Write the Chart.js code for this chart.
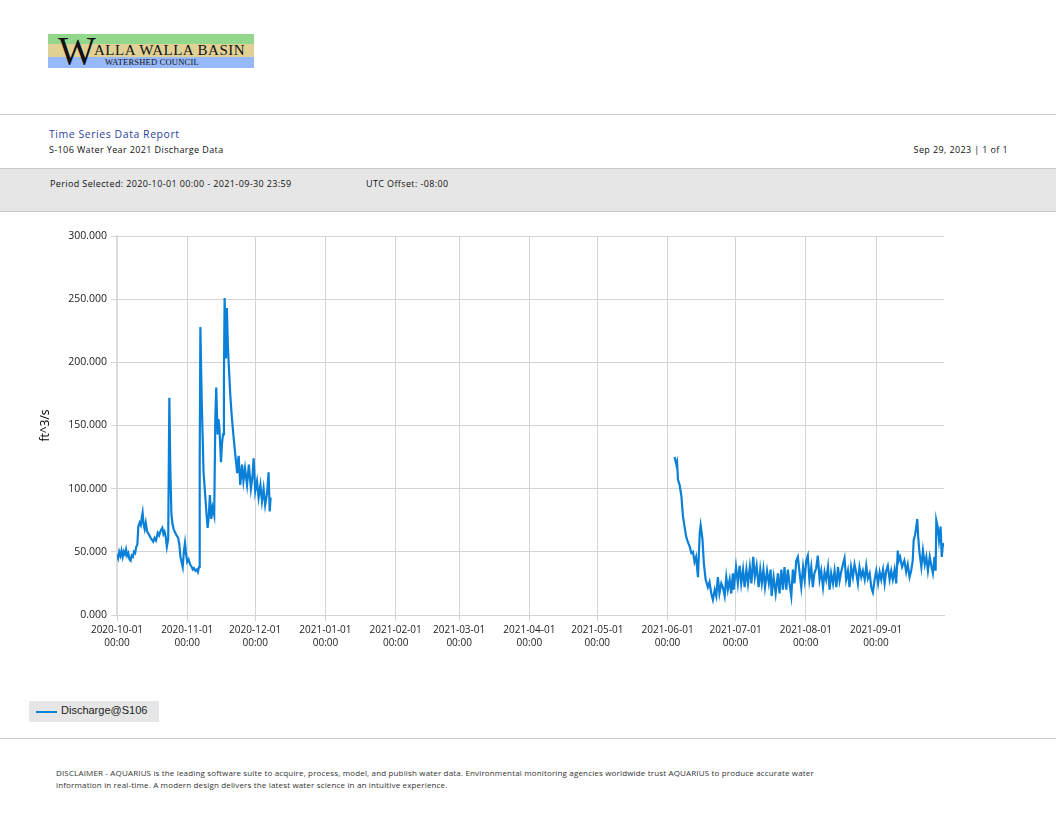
<!DOCTYPE html>
<html>
<head>
<meta charset="utf-8">
<script src="https://cdn.jsdelivr.net/npm/chart.js@4.4.1/dist/chart.umd.min.js"></script>
<style>
  body { margin: 0; width: 1056px; height: 816px; background: #fff; position: relative; overflow: hidden; font-family: 'Open Sans', sans-serif; }
  .abs { position: absolute; white-space: nowrap; }
  .rule { position: absolute; left: 0; width: 1056px; height: 1px; background: #c8c8c8; }
  .hdr { font-size: 9px; color: #111; letter-spacing: 0.38px; }
  #logo { left: 48px; top: 34px; width: 206px; height: 34px; }
  #logo .band { position: absolute; left: 0; width: 206px; }
  #chart-wrap { position: absolute; left: 30px; top: 225px; width: 930px; height: 430px; }
  #legend { left: 29px; top: 701px; width: 130px; height: 21px; background: #e6e6e6; }
  #legend .swatch { position: absolute; left: 7px; top: 10px; width: 21px; height: 2px; }
  #legend .label { position: absolute; left: 32px; top: 3px; font: 11px 'Liberation Sans', Arial, sans-serif; color: #222; }
</style>
</head>
<body>

<div id="logo" class="abs">
  <div class="band" style="top:0;height:10px;background:#92d78c"></div>
  <div class="band" style="top:10px;height:13px;background:#e2d195"></div>
  <div class="band" style="top:23px;height:11px;background:#97b8fa"></div>
  <div class="abs" style="left:10px;top:-3px;font:40px 'Liberation Serif',serif;color:#111;line-height:40px">W</div>
  <div class="abs" style="left:46px;top:9px;font:15px 'Liberation Serif',serif;color:#111;letter-spacing:0.5px;line-height:15px">ALLA WALLA BASIN</div>
  <div class="abs" style="left:57px;top:24px;font:8.5px 'Liberation Serif',serif;color:#111;letter-spacing:0.2px;line-height:9px">WATERSHED COUNCIL</div>
</div>

<div class="rule" style="top:114px"></div>
<div class="abs" style="left:49px;top:127px;font-size:10.5px;color:#2d3f9e;letter-spacing:0.55px">Time Series Data Report</div>
<div class="abs hdr" style="left:49px;top:143px">S-106 Water Year 2021 Discharge Data</div>
<div class="abs hdr" style="right:48px;top:143px">Sep 29, 2023 | 1 of 1</div>

<div class="abs" style="left:0;top:168px;width:1056px;height:42px;background:#e6e6e6;border-top:1px solid #c8c8c8;border-bottom:1px solid #c8c8c8"></div>
<div class="abs hdr" style="left:50px;top:177px">Period Selected: 2020-10-01 00:00 - 2021-09-30 23:59</div>
<div class="abs hdr" style="left:366px;top:177px">UTC Offset: -08:00</div>

<div id="chart-wrap"><canvas id="flowChart" width="930" height="430"></canvas></div>

<div id="legend" class="abs"></div>

<div class="rule" style="top:738px"></div>
<div class="abs" style="left:56px;top:767px;font-size:8px;line-height:12px;color:#333;letter-spacing:0.16px">
  DISCLAIMER - AQUARIUS is the leading software suite to acquire, process, model, and publish water data. Environmental monitoring agencies worldwide trust AQUARIUS to produce accurate water<br>
  information in real-time. A modern design delivers the latest water science in an intuitive experience.
</div>

<script>
// Axis: days since 2020-10-01 00:00, month starts as ticks
const monthStartDay = [0, 31, 61, 92, 123, 151, 182, 212, 243, 273, 304, 335];
const monthLabels = ['2020-10-01', '2020-11-01', '2020-12-01', '2021-01-01', '2021-02-01', '2021-03-01',
  '2021-04-01', '2021-05-01', '2021-06-01', '2021-07-01', '2021-08-01', '2021-09-01'];
const yTicks = [0, 50, 100, 150, 200, 250, 300];

// Autumn record (Oct 1 - Dec 7)
const fallDay = [0, 0.5, 1, 1.5, 2, 2.5, 3, 3.5, 4, 4.5, 5, 5.5, 6, 6.5, 7, 7.5, 8, 8.5, 9,
  9.4, 10, 10.5, 11, 11.3, 11.7, 12.2, 12.7, 13.3, 14, 14.6, 15.2, 16, 16.6, 17.2, 18, 18.6, 19.3,
  20, 20.5, 21, 21.5, 22, 22.6, 23.1, 23.5, 24, 24.5, 25, 25.7, 26.3, 27, 27.5, 28, 28.5, 29, 29.5,
  30, 30.5, 31, 31.6, 32.3, 33, 33.5, 34, 34.6, 35.2, 35.7, 36.2, 36.5, 36.8, 37.4, 38.2, 39, 39.5,
  40, 40.5, 41, 41.6, 42.2, 42.9, 43.4, 43.8, 44.4, 44.8, 45.2, 45.9, 46.3, 46.8, 47.2, 47.5, 48.1,
  48.5, 48.9, 49.3, 50, 50.7, 51.5, 52.2, 53, 53.4, 53.7, 54.4, 55.2, 55.8, 56.5, 57.4, 58.2, 59.1,
  59.8, 60.3, 61, 61.8, 62.5, 63.3, 64, 64.7, 65.4, 66.2, 66.9, 67.4, 67.8];
const fallFlow = [48, 45, 50, 47, 51, 46, 50, 48, 52, 47, 49, 44, 43, 47, 46, 50, 49, 54, 56,
  70, 73, 71, 78, 81, 72, 68, 73, 66, 64, 62, 60, 58, 61, 59, 65, 63, 67,
  69, 64, 66, 62, 54, 60, 172, 120, 80, 72, 68, 65, 63, 61, 56, 46, 42, 38, 50,
  57, 48, 42, 44, 40, 38, 36, 37, 35, 36, 34, 38, 120, 228, 169, 113, 93, 80,
  69, 78, 95, 76, 85, 79, 156, 180, 143, 155, 148, 121, 135, 143, 190, 251, 203,
  243, 215, 199, 174, 156, 140, 127, 113, 122, 126, 103, 119, 106, 116, 103, 119, 100,
  110, 124, 98, 106, 93, 103, 90, 100, 87, 96, 113, 82, 93];

// Summer record (Jun 4 - Sep 30)
const summerDay = [246.1, 246.5, 246.9, 247.2, 247.6, 248.3, 249.1, 249.8, 250.5, 251.2, 251.9, 252.8,
  253.5, 254.2, 254.9, 255.6, 256.4, 257.2, 257.6, 258.4, 259, 259.8, 260.8, 261.5, 262.3, 263, 263.8,
  264.5, 265.2, 265.9, 266.7, 267.4, 268.2, 268.9, 269.6, 270.4, 271.1, 271.8, 272.2, 273.2, 274, 274.8,
  275.5, 276.3, 277, 277.8, 278.5, 279.3, 280, 280.8, 281.5, 282.3, 283.2, 283.9, 284.6, 285.3, 286,
  286.9, 287.7, 288.5, 288.9, 289.8, 290.7, 291.7, 292.4, 293.2, 293.9, 294.6, 295.4, 296.1, 296.8,
  297.6, 298.3, 299, 299.8, 300.5, 301.3, 302, 302.8, 303.5, 304.2, 304.9, 305.6, 306.4, 307.1, 307.8,
  308.6, 309.3, 310.1, 310.8, 311.6, 312.3, 313, 313.8, 314.5, 315.2, 316, 316.7, 317.5, 318.2, 318.9,
  319.6, 320.4, 321.1, 321.8, 322.6, 323.3, 324, 324.8, 325.5, 326.3, 327, 327.7, 328.5, 329.2, 330,
  330.7, 331.4, 332.2, 332.9, 333.6, 334.4, 335.1, 335.9, 336.6, 337.3, 338.1, 338.8, 339.5, 340.2,
  341, 341.7, 342.4, 343.2, 343.9, 344.6, 345, 345.6, 346.5, 347.5, 348.3, 349, 349.8, 350.5, 351.2,
  351.6, 352.3, 353.2, 353.6, 354.2, 355, 355.7, 356.5, 357.2, 357.9, 358.7, 359.4, 360.1, 360.8,
  361.3, 361.6, 362.2, 362.8, 363.5, 364, 364.4, 364.9];
const summerFlow = [125, 122, 119, 121, 107, 103, 94, 78, 70, 62, 58, 54,
  49, 50, 42, 46, 30, 65, 71, 60, 41, 28, 22, 26, 17, 12, 20,
  15, 30, 17, 25, 22, 15, 30, 20, 28, 17, 33, 20, 38, 25, 39,
  25, 36, 22, 36, 25, 38, 25, 46, 30, 39, 22, 36, 25, 36, 22,
  35, 25, 36, 15, 30, 17, 33, 17, 36, 20, 38, 20, 36, 25,
  15, 36, 25, 43, 46, 33, 22, 38, 28, 43, 47, 28, 38, 22, 33,
  37, 47, 28, 35, 22, 34, 28, 38, 20, 33, 25, 35, 22, 38, 27,
  34, 40, 45, 28, 35, 22, 38, 30, 40, 33, 25, 38, 30, 35, 28,
  39, 29, 33, 22, 18, 28, 35, 25, 34, 28, 36, 25, 35, 39,
  28, 35, 28, 36, 25, 51, 43, 46, 38, 43, 34, 40, 30, 35, 43,
  59, 64, 76, 62, 49, 38, 51, 40, 46, 35, 46, 39, 33, 46,
  35, 75, 70, 59, 70, 46, 54, 57];

const seriesLabel = 'Discharge@S106';
const lineColor = '#0a80d8';

const points = fallDay.map((d, i) => ({ x: d, y: fallFlow[i] }))
  .concat([{ x: 150, y: null }])
  .concat(summerDay.map((d, i) => ({ x: d, y: summerFlow[i] })));

const chart = new Chart(document.getElementById('flowChart'), {
  type: 'line',
  data: {
    datasets: [{
      label: seriesLabel,
      data: points,
      borderColor: lineColor,
      backgroundColor: lineColor,
      borderWidth: 2.2,
      pointRadius: 0,
      tension: 0,
      spanGaps: false
    }]
  },
  options: {
    responsive: false,
    animation: false,
    layout: { padding: { top: 11, right: 16, left: 0, bottom: 0 } },
    plugins: { legend: { display: false }, tooltip: { enabled: false } },
    scales: {
      x: {
        type: 'linear',
        min: 0,
        max: 364.999,
        afterBuildTicks: (scale) => { scale.ticks = monthStartDay.map(v => ({ value: v })); },
        afterFit: (scale) => { scale.height = 40; },
        ticks: {
          autoSkip: false,
          maxRotation: 0,
          padding: 3,
          color: '#222',
          font: { family: 'Open Sans', size: 10, lineHeight: 1.3 },
          callback: (value, index) => [monthLabels[index], '00:00']
        },
        grid: { color: '#d4d4d4', tickLength: 6 },
        border: { color: '#d4d4d4' }
      },
      y: {
        min: 0,
        max: 300,
        afterBuildTicks: (scale) => { scale.ticks = yTicks.map(v => ({ value: v })); },
        afterFit: (scale) => { scale.width = 87; },
        ticks: {
          padding: 4,
          color: '#222',
          font: { family: 'Open Sans', size: 10.5 },
          callback: (value) => value.toFixed(3)
        },
        grid: { color: '#d4d4d4', tickLength: 6 },
        border: { color: '#dcdcdc', width: 2 },
        title: {
          display: true,
          text: 'ft^3/s',
          color: '#000',
          font: { family: 'Open Sans', size: 12 },
          padding: { top: 8, bottom: 4 }
        }
      }
    }
  }
});

// HTML legend from the dataset
const legendEl = document.getElementById('legend');
chart.data.datasets.forEach(ds => {
  legendEl.innerHTML += `<div class="swatch" style="background:${ds.borderColor}"></div><div class="label">${ds.label}</div>`;
});
</script>
</body>
</html>
